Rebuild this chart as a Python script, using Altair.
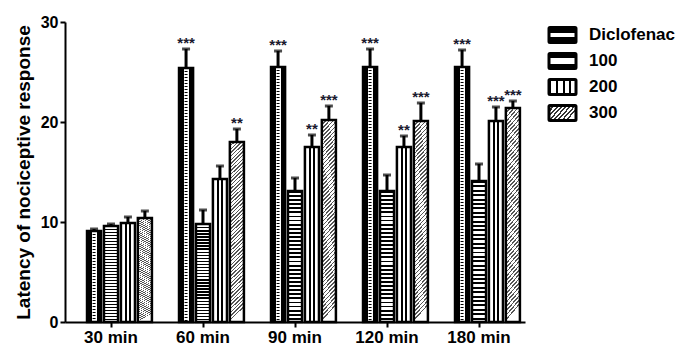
import altair as alt
import pandas as pd

times = ["30 min", "60 min", "90 min", "120 min", "180 min"]
groups = ["Diclofenac", "100", "200", "300"]

diclofenac = [9.1, 25.4, 25.5, 25.5, 25.5]
sem_dic = [0.2, 1.9, 1.6, 1.8, 1.7]
dose100 = [9.6, 9.8, 13.1, 13.1, 14.1]
sem_100 = [0.2, 1.4, 1.3, 1.6, 1.7]
dose200 = [9.9, 14.3, 17.5, 17.5, 20.1]
sem_200 = [0.6, 1.3, 1.2, 1.1, 1.4]
dose300 = [10.4, 18.0, 20.2, 20.1, 21.4]
sem_300 = [0.7, 1.3, 1.4, 1.8, 0.7]

sig_dic = ["", "***", "***", "***", "***"]
sig_100 = ["", "", "", "", ""]
sig_200 = ["", "", "**", "**", "***"]
sig_300 = ["", "**", "***", "***", "***"]

rows = []
for g, vals, sems, sigs in [("Diclofenac", diclofenac, sem_dic, sig_dic),
                            ("100", dose100, sem_100, sig_100),
                            ("200", dose200, sem_200, sig_200),
                            ("300", dose300, sem_300, sig_300)]:
    for t, v, s, sg in zip(times, vals, sems, sigs):
        rows.append({"time": t, "group": g, "mean": v, "upper": v + s, "sig": sg})
df = pd.DataFrame(rows)

offset_domain = ["_pad"] + groups
FONT = "Liberation Sans"


def stops(pairs):
    return [alt.GradientStop(offset=o, color=c) for o, c in pairs]


def stripes(n, dark_frac, dark="black", light="white"):
    pairs = []
    for k in range(n):
        a = k / n
        b = (k + dark_frac) / n
        c = (k + 1) / n
        pairs += [(a, dark), (b, dark), (b, light), (c, light)]
    return pairs


grad_dic = alt.Gradient(gradient="linear", x1=0, y1=0, x2=1, y2=0,
                        stops=stops([(0, "black"), (0.32, "black"), (0.32, "white"),
                                     (0.68, "white"), (0.68, "black"), (1, "black")]))
grad_100 = alt.Gradient(gradient="linear", x1=0, y1=0, x2=0, y2=1,
                        stops=stops(stripes(32, 0.45)))
grad_200 = alt.Gradient(gradient="linear", x1=0, y1=0, x2=1, y2=0,
                        stops=stops([(0, "white"), (0.3, "white"), (0.3, "black"), (0.42, "black"),
                                     (0.42, "white"), (0.58, "white"), (0.58, "black"), (0.7, "black"),
                                     (0.7, "white"), (1, "white")]))
grad_300 = alt.Gradient(gradient="linear", x1=0, y1=0, x2=0.076, y2=1,
                        stops=stops(stripes(50, 0.4, dark="#555555")))

leg_dic = alt.Gradient(gradient="linear", x1=0, y1=0, x2=0, y2=1,
                       stops=stops([(0, "black"), (0.4, "black"), (0.4, "white"),
                                    (0.6, "white"), (0.6, "black"), (1, "black")]))
leg_100 = alt.Gradient(gradient="linear", x1=0, y1=0, x2=0, y2=1,
                       stops=stops([(0, "black"), (0.3, "black"), (0.3, "white"),
                                    (0.7, "white"), (0.7, "black"), (1, "black")]))
leg_200 = alt.Gradient(gradient="linear", x1=0, y1=0, x2=1, y2=0,
                       stops=stops(stripes(4, 0.3)))
leg_300 = alt.Gradient(gradient="linear", x1=0, y1=0, x2=1, y2=0.5,
                       stops=stops(stripes(8, 0.45, dark="#333333")))

main_grads = {"Diclofenac": grad_dic, "100": grad_100, "200": grad_200, "300": grad_300}
leg_grads = {"Diclofenac": leg_dic, "100": leg_100, "200": leg_200, "300": leg_300}

x_enc = alt.X("time:N", sort=times,
              scale=alt.Scale(paddingInner=0, paddingOuter=0),
              axis=alt.Axis(title=None, labelFont=FONT, labelFontWeight="bold", labelFontSize=17,
                            labelColor="black", domainColor="black", domainWidth=2,
                            tickColor="black", tickWidth=2, tickSize=5, labelPadding=2,
                            labelAngle=0))
xo_enc = alt.XOffset("group:N", sort=offset_domain,
                     scale=alt.Scale(domain=offset_domain, paddingInner=0.17, paddingOuter=0.3))
y_scale = alt.Scale(domain=[0, 30])

base = alt.Chart(df)

layers = []
for g in groups:
    layers.append(
        base.transform_filter(alt.datum.group == g)
        .mark_bar(fill=main_grads[g], stroke="black", strokeWidth=2.5)
        .encode(
            x=x_enc, xOffset=xo_enc,
            y=alt.Y("mean:Q", scale=y_scale,
                    axis=alt.Axis(title="Latency of nociceptive response", values=[0, 10, 20, 30],
                                  titleFont=FONT, titleFontSize=19, titleFontWeight="bold",
                                  titleColor="black", labelFont=FONT, labelFontWeight="bold",
                                  labelFontSize=16, labelColor="black", domainColor="black",
                                  domainWidth=2, tickColor="black", tickWidth=2, tickSize=5,
                                  labelPadding=2, grid=False, titlePadding=7)),
        )
    )

dash = (base.transform_filter(alt.datum.group == "Diclofenac")
        .mark_rule(color="black", strokeWidth=3, strokeDash=[1, 2])
        .encode(x=x_enc, xOffset=xo_enc, y=alt.Y("mean:Q", scale=y_scale), y2=alt.datum(0)))

err = base.mark_rule(color="black", strokeWidth=3).encode(
    x=x_enc, xOffset=xo_enc, y=alt.Y("mean:Q", scale=y_scale), y2="upper:Q")
cap = base.mark_tick(color="black", thickness=3, size=8, orient="horizontal").encode(
    x=x_enc, xOffset=xo_enc, y=alt.Y("upper:Q", scale=y_scale))
stars = base.mark_text(font=FONT, fontSize=15, fontWeight="bold", color="#1a1a2e",
                       baseline="alphabetic", dy=-1).encode(
    x=x_enc, xOffset=xo_enc, y=alt.Y("upper:Q", scale=y_scale), text="sig:N")

main = alt.layer(*layers, dash, err, cap, stars).properties(width=460, height=300)

leg_df = pd.DataFrame({"group": groups})
leg_base = alt.Chart(leg_df)
ly = alt.Y("group:N", sort=groups, axis=None,
           scale=alt.Scale(paddingInner=0.42, paddingOuter=0.21))
leg_layers = []
for g in groups:
    leg_layers.append(
        leg_base.transform_filter(alt.datum.group == g)
        .mark_rect(fill=leg_grads[g], stroke="black", strokeWidth=3, cornerRadius=1)
        .encode(y=ly, x=alt.value(2), x2=alt.value(29))
    )
leg_text = leg_base.mark_text(align="left", font=FONT, fontSize=17, fontWeight="bold",
                              color="black").encode(y=ly, x=alt.value(42), text="group:N")
legend = alt.layer(*leg_layers, leg_text).properties(width=120, height=104)

chart = (alt.hconcat(main, legend, spacing=22)
         .properties(padding={"left": 6, "top": 6, "right": 0, "bottom": 0})
         .configure_view(stroke=None))

chart.save("out.html", embed_options={"renderer": "svg", "actions": False})
